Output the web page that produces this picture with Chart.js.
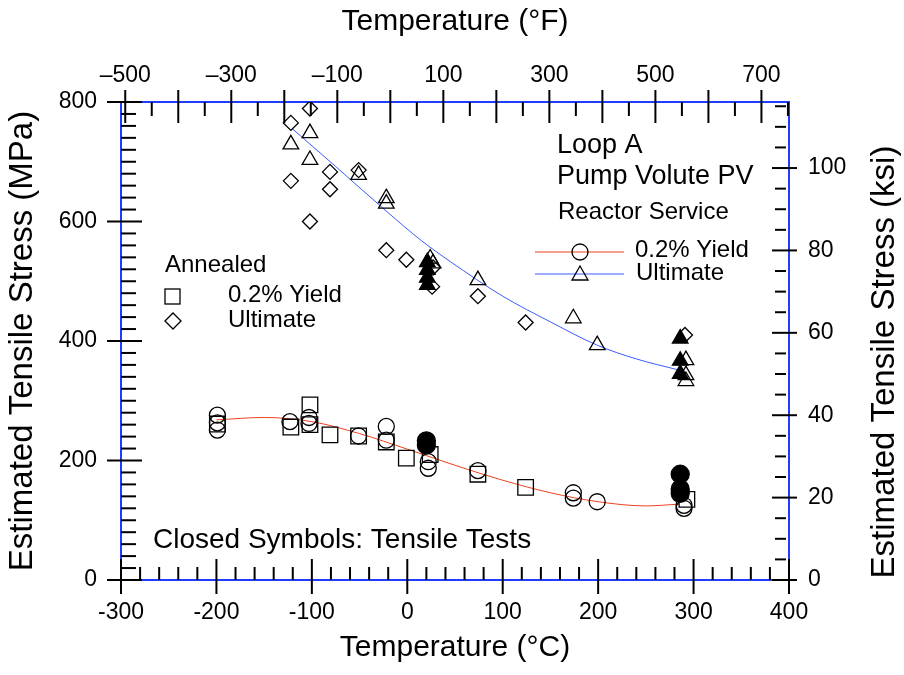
<!DOCTYPE html>
<html>
<head>
<meta charset="utf-8">
<title>Loop A Pump Volute PV - tensile stress vs temperature</title>
<script src="https://cdn.jsdelivr.net/npm/chart.js"></script>
<style>
	body { margin: 0; background: #fff; }
	#chart-division { width: 904px; height: 675px; }
</style>
</head>
<body>
<div id="chart-division"><canvas id="stress-canvas" width="904" height="675"></canvas></div>
<script>
// index.html
//
// estimated tensile stress vs temperature, annealed vs reactor service material

// tick labels for the four axes
const cTicks = [-300, -200, -100, 0, 100, 200, 300, 400];
const fTicks = [-500, -300, -100, 100, 300, 500, 700];
const mpaTicks = [0, 200, 400, 600, 800];
const ksiTicks = [0, 20, 40, 60, 80, 100];

// annealed, 0.2% yield (open squares)
const annYieldT = [-199, -122, -102, -102, -81, -51, -22, -1, 24, 74, 124, 293];
const annYieldS = [261, 256, 293, 260, 243, 241, 231, 204, 210, 177, 155, 135];

// annealed, ultimate (open diamonds)
const annUltT = [-102, -122, -122, -81, -81, -102, -51, -22, -1, 27, 26, 74, 124, 291];
const annUltS = [789, 765, 668, 683, 654, 600, 686, 552, 536, 523, 491, 475, 431, 410];

// reactor service, 0.2% yield (open circles)
const rsYieldT = [-199, -199, -199, -123, -103, -103, -51, -22, -22, 22, 22, 74, 174, 174, 199, 290, 290];
const rsYieldS = [276, 263, 251, 265, 272, 262, 241, 257, 234, 198, 187, 183, 146, 137, 131, 125, 120];

// reactor service, 0.2% yield, tensile tests (closed circles)
const ttYieldT = [20, 20, 286, 286, 286];
const ttYieldS = [233, 226, 177, 152, 145];

// reactor service, ultimate (open triangles)
const rsUltT = [-102, -122, -102, -51, -22, -22, 24, 27, 74, 174, 199, 292, 292, 292];
const rsUltS = [748, 729, 703, 678, 639, 630, 538, 530, 502, 438, 393, 368, 343, 333];

// reactor service, ultimate, tensile tests (closed triangles)
const ttUltT = [21, 21, 21, 21, 286, 286, 286];
const ttUltS = [532, 519, 506, 494, 404, 367, 345];

// fitted curves
const yieldFitT = [-200, -150, -100, -50, 0, 50, 100, 150, 200, 250, 285];
const yieldFitS = [268, 272, 265, 245, 219, 192, 167, 146, 131, 124, 127];
const ultFitT = [-121, -75, -21, 14, 45, 100, 150, 199, 240, 283];
const ultFitS = [756, 692, 616, 569, 533, 475, 432, 393, 370, 352];

const MPA_PER_KSI = 6.894757;
const FONT = '"Liberation Sans", Arial, Helvetica, sans-serif';
const FRAME_BLUE = '#1f3cff';
const RED_FIT = '#f0401e';
const BLUE_FIT = '#3a5cff';

Chart.defaults.font.family = FONT;
Chart.defaults.color = '#000';

// zip two arrays into {x, y} points
function pts(xs, ys) {
	return xs.map((x, i) => ({ x: x, y: ys[i] }));
}

function markerSet(label, xs, ys, style, radius, filled) {
	return {
		label: label,
		data: pts(xs, ys),
		pointStyle: style,
		pointRadius: radius,
		borderColor: '#000',
		borderWidth: 1.3,
		backgroundColor: filled ? '#000' : 'rgba(0,0,0,0)',
		showLine: false
	};
}

function fitSet(label, xs, ys, color) {
	return {
		label: label,
		data: pts(xs, ys),
		showLine: true,
		borderColor: color,
		borderWidth: 1,
		pointRadius: 0,
		cubicInterpolationMode: 'monotone',
		fill: false
	};
}

function line(ctx, x1, y1, x2, y2) {
	ctx.beginPath();
	ctx.moveTo(x1, y1);
	ctx.lineTo(x2, y2);
	ctx.stroke();
}

// frame in blue plus the black tick marks (majors cross the frame, minors sit inside)
const frameTicks = {
	id: 'frameTicks',
	beforeDatasetsDraw(chart) {
		const ctx = chart.ctx;
		const a = chart.chartArea;
		const sx = chart.scales.x, sy = chart.scales.y, sf = chart.scales.x2, sk = chart.scales.y2;
		ctx.save();
		ctx.strokeStyle = FRAME_BLUE;
		ctx.lineWidth = 2;
		ctx.strokeRect(a.left, a.top, a.right - a.left, a.bottom - a.top);

		ctx.strokeStyle = '#000';
		ctx.lineWidth = 2;
		// bottom, deg C
		for (let v = -300; v <= 400; v += 20) {
			const px = sx.getPixelForValue(v);
			if (v % 100 === 0) line(ctx, px, a.bottom - 21, px, a.bottom + 14);
			else line(ctx, px, a.bottom - 13, px, a.bottom);
		}
		// top, deg F
		for (let v = -500; v <= 750; v += 50) {
			const px = sf.getPixelForValue(v);
			if (v % 100 === 0) line(ctx, px, a.top - 12, px, a.top + 21);
			else line(ctx, px, a.top, px, a.top + 14);
		}
		// left, MPa
		for (let v = 0; v <= 800; v += 20) {
			const py = sy.getPixelForValue(v);
			if (v % 200 === 0) line(ctx, a.left - 14, py, a.left + 21, py);
			else line(ctx, a.left, py, a.left + 15, py);
		}
		// right, ksi
		for (let v = 0; v <= 115; v += 5) {
			const py = sk.getPixelForValue(v);
			if (v % 20 === 0) line(ctx, a.right - 17, py, a.right + 8, py);
			else line(ctx, a.right - 14, py, a.right - 3, py);
		}
		ctx.restore();
	},
	afterDraw(chart) {
		const ctx = chart.ctx;
		ctx.save();
		ctx.fillStyle = '#000';
		ctx.strokeStyle = '#000';
		ctx.textBaseline = 'alphabetic';
		ctx.textAlign = 'left';

		// right axis title, reads bottom to top like the left one
		ctx.save();
		ctx.font = '33px ' + FONT;
		ctx.translate(885, 362);
		ctx.rotate(-Math.PI / 2);
		ctx.textAlign = 'center';
		ctx.textBaseline = 'middle';
		ctx.fillText('Estimated Tensile Stress (ksi)', 0, 0);
		ctx.restore();

		// annealed legend
		ctx.font = '24px ' + FONT;
		ctx.fillText('Annealed', 165, 272);
		ctx.fillText('0.2% Yield', 228, 302);
		ctx.fillText('Ultimate', 228, 327);
		ctx.lineWidth = 1.3;
		ctx.strokeRect(165, 289, 15, 15);
		ctx.beginPath();
		ctx.moveTo(165, 321); ctx.lineTo(173, 313); ctx.lineTo(181, 321); ctx.lineTo(173, 329);
		ctx.closePath();
		ctx.stroke();

		// reactor service legend
		ctx.font = '27px ' + FONT;
		ctx.fillText('Loop A', 557, 153);
		ctx.fillText('Pump Volute PV', 557, 184);
		ctx.font = '24px ' + FONT;
		ctx.fillText('Reactor Service', 558, 219);
		ctx.fillText('0.2% Yield', 635, 257);
		ctx.fillText('Ultimate', 636, 280);
		ctx.lineWidth = 1;
		ctx.strokeStyle = RED_FIT;
		line(ctx, 535, 252, 624, 252);
		ctx.strokeStyle = BLUE_FIT;
		line(ctx, 535, 274, 624, 274);
		ctx.strokeStyle = '#000';
		ctx.lineWidth = 1.3;
		ctx.beginPath();
		ctx.arc(580, 252, 8, 0, Math.PI * 2);
		ctx.stroke();
		ctx.beginPath();
		ctx.moveTo(580, 266); ctx.lineTo(588, 280); ctx.lineTo(572, 280);
		ctx.closePath();
		ctx.stroke();

		ctx.font = '28px ' + FONT;
		ctx.fillText('Closed Symbols: Tensile Tests', 153, 548);
		ctx.restore();
	}
};

const chart = new Chart(document.getElementById('stress-canvas'), {
	type: 'scatter',
	data: {
		datasets: [
			markerSet('annealed yield', annYieldT, annYieldS, 'rect', 11, false),
			markerSet('annealed ultimate', annUltT, annUltS, 'rectRot', 7.5, false),
			markerSet('rs yield', rsYieldT, rsYieldS, 'circle', 8, false),
			markerSet('tensile yield', ttYieldT, ttYieldS, 'circle', 9, true),
			markerSet('rs ultimate', rsUltT, rsUltS, 'triangle', 9, false),
			markerSet('tensile ultimate', ttUltT, ttUltS, 'triangle', 9, true),
			// fits last so they are drawn underneath the symbols
			fitSet('yield fit', yieldFitT, yieldFitS, RED_FIT),
			fitSet('ultimate fit', ultFitT, ultFitS, BLUE_FIT)
		]
	},
	options: {
		responsive: false,
		devicePixelRatio: 1,
		animation: false,
		events: [],
		layout: { padding: 0 },
		plugins: {
			legend: { display: false },
			tooltip: { enabled: false }
		},
		scales: {
			x: {
				type: 'linear',
				position: 'bottom',
				min: -300,
				max: 400,
				afterBuildTicks: (s) => { s.ticks = cTicks.map(v => ({ value: v })); },
				afterFit: (s) => { s.height = 95; },
				grid: { display: false, drawTicks: false },
				border: { display: false },
				ticks: { font: { size: 23 }, padding: 19, maxRotation: 0, autoSkip: false },
				title: { display: true, text: 'Temperature (°C)', font: { size: 30 }, padding: { top: 0, bottom: 9 } }
			},
			x2: {
				type: 'linear',
				position: 'top',
				min: -300 * 1.8 + 32,
				max: 400 * 1.8 + 32,
				afterBuildTicks: (s) => { s.ticks = fTicks.map(v => ({ value: v })); },
				afterFit: (s) => { s.height = 102; },
				grid: { display: false, drawTicks: false },
				border: { display: false },
				ticks: {
					font: { size: 23 }, padding: 13, maxRotation: 0, autoSkip: false,
					callback: (v) => v < 0 ? '\u2013' + Math.abs(v) : String(v)
				},
				title: { display: true, text: 'Temperature (°F)', font: { size: 30 }, padding: { top: 4, bottom: 0 } }
			},
			y: {
				type: 'linear',
				position: 'left',
				min: 0,
				max: 800,
				afterBuildTicks: (s) => { s.ticks = mpaTicks.map(v => ({ value: v })); },
				afterFit: (s) => { s.width = 121; },
				grid: { display: false, drawTicks: false },
				border: { display: false },
				ticks: { font: { size: 23 }, padding: 24 },
				title: { display: true, text: 'Estimated Tensile Stress (MPa)', font: { size: 33 }, padding: { top: 3, bottom: 0 } }
			},
			y2: {
				type: 'linear',
				position: 'right',
				min: 0,
				max: 800 / MPA_PER_KSI,
				afterBuildTicks: (s) => { s.ticks = ksiTicks.map(v => ({ value: v })); },
				afterFit: (s) => { s.width = 115; },
				grid: { display: false, drawTicks: false },
				border: { display: false },
				ticks: { font: { size: 23 }, padding: 19 }
			}
		}
	},
	plugins: [frameTicks]
});
</script>
</body>
</html>
